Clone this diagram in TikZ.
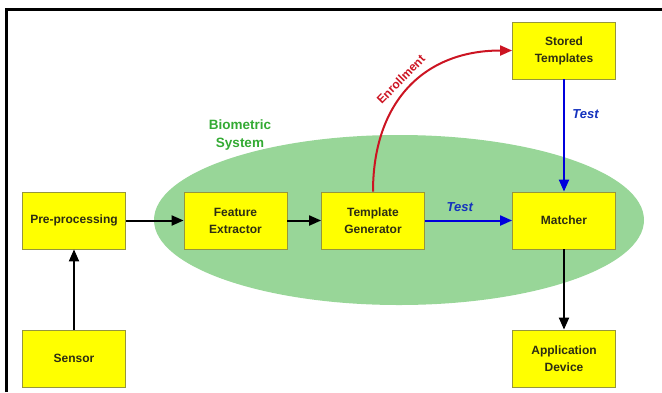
\documentclass[tikz,border=0pt]{standalone}
\usepackage{fontspec}
\setmainfont{Liberation Sans}
\usetikzlibrary{arrows.meta, positioning, shapes}
\definecolor{boxyellow}{RGB}{255,255,0}
\definecolor{boxborder}{RGB}{150,150,60}
\definecolor{boxtext}{RGB}{45,45,20}
\definecolor{sysgreen}{RGB}{152,214,152}
\definecolor{systext}{RGB}{51,170,51}
\definecolor{enrollred}{RGB}{204,20,34}
\definecolor{testblue}{RGB}{0,0,220}
\definecolor{testtext}{RGB}{20,50,190}
\tikzset{
  block/.style={draw=boxborder, fill=boxyellow, line width=0.8pt, text=boxtext,
    minimum width=103pt, minimum height=57pt, align=center, inner sep=2pt},
  flow/.style={line width=2pt, -{Triangle[length=12pt,width=10pt]}},
  testflow/.style={flow, draw=testblue},
  enrollflow/.style={flow, draw=enrollred},
  testlabel/.style={text=testtext, font=\bfseries\itshape\fontsize{13}{15}\selectfont}
}

\begin{document}
\begin{tikzpicture}[x=1pt, y=-1pt, font=\bfseries\fontsize{12}{17}\selectfont]
  \useasboundingbox (0,0) rectangle (662,392);
  % frame
  \draw[line width=3pt] (6,392) -- (6,9.5) -- (662,9.5);
  % biometric system
  \fill[sysgreen] (399,220) ellipse [x radius=245pt, y radius=85pt];
  \node[text=systext, align=center, font=\bfseries\fontsize{13.5}{18}\selectfont] (sysname) at (240,135) {Biometric\\System};

  % blocks
  \node[block] (preproc) at (74,220.5) {Pre-processing};
  \node[block] (feature) at (235.5,220.5) {Feature\\Extractor};
  \node[block] (templgen) at (373,220.5) {Template\\Generator};
  \node[block] (matcher) at (564,220.5) {Matcher};
  \node[block] (stored) at (564,50.5) {Stored\\Templates};
  \node[block] (sensor) at (74,358.5) {Sensor};
  \node[block] (appdev) at (564,358.5) {Application\\Device};

  % connectors
  \draw[flow] (sensor) -- (preproc);
  \draw[flow] (preproc) -- (feature);
  \draw[flow] (feature) -- (templgen);
  \draw[flow] (matcher) -- (appdev);
  \draw[testflow] (templgen) -- node[testlabel, above=5pt, pos=0.4] {Test} (matcher);
  \draw[testflow] (stored) -- node[testlabel, right=4pt, pos=0.31] {Test} (matcher);
  \draw[enrollflow] (templgen.north) to[out=90, in=180, looseness=1.15]
    node[sloped, above=3pt, pos=0.5, text=enrollred] {Enrollment} (stored.west);
\end{tikzpicture}
\end{document}
